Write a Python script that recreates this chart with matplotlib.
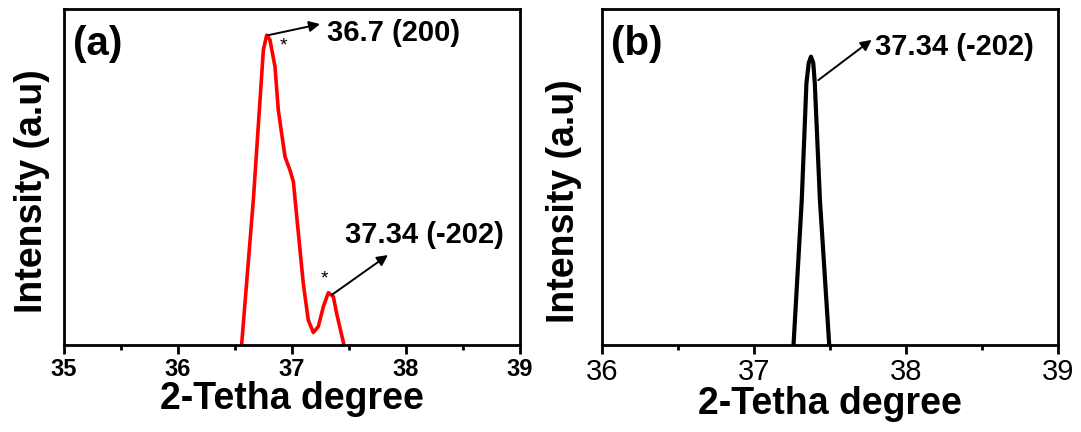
import matplotlib
matplotlib.use('Agg')
import matplotlib.pyplot as plt
from matplotlib.ticker import MultipleLocator

plt.rcParams['font.family'] = ['Liberation Sans', 'DejaVu Sans']

# panel (a) - red pattern, two peaks
theta_a = [36.558, 36.661, 36.749, 36.778, 36.807, 36.851, 36.880, 36.909, 36.939,
           36.982, 37.012, 37.056, 37.099, 37.143, 37.187, 37.231, 37.275, 37.319,
           37.363, 37.392, 37.456]
int_a = [0.0, 0.432, 0.879, 0.923, 0.909, 0.829, 0.700, 0.631, 0.561,
         0.521, 0.487, 0.333, 0.184, 0.074, 0.037, 0.055, 0.114, 0.156,
         0.144, 0.094, 0.0]

# panel (b) - black pattern, single peak
theta_b = [37.26, 37.314, 37.345, 37.36, 37.375, 37.39, 37.40, 37.434, 37.495]
int_b = [0.0, 0.43, 0.78, 0.84, 0.859, 0.84, 0.78, 0.43, 0.0]

# peak labels
peak_a1 = (36.792, 0.923, '36.7 (200)')
peak_a2 = (37.348, 0.149, '37.34 (-202)')
peak_b = (37.423, 0.789, '37.34 (-202)')

fig = plt.figure(figsize=(10.81, 4.32), dpi=100)
ax1 = fig.add_axes([0.0592, 0.2014, 0.4218, 0.777])
ax2 = fig.add_axes([0.5569, 0.2014, 0.4218, 0.777])

ax1.plot(theta_a, int_a, color='#ff0000', lw=2.6, solid_joinstyle='round')
ax2.plot(theta_b, int_b, color='black', lw=3, solid_joinstyle='round')

ax1.set_xlim(35, 39)
ax2.set_xlim(36, 39)

arrow = dict(arrowstyle='-|>', color='black', lw=1.4, mutation_scale=16,
             shrinkA=0, shrinkB=0)

# (a) annotations
ax1.annotate('', xy=(37.246, 0.956), xytext=peak_a1[:2], arrowprops=arrow)
ax1.text(37.307, 0.929, peak_a1[2], fontsize=21, fontweight='bold', va='center')
ax1.text(36.921, 0.89, '*', fontsize=14, ha='center', va='center')
ax1.annotate('', xy=(37.842, 0.268), xytext=peak_a2[:2], arrowprops=arrow)
ax1.text(37.465, 0.328, peak_a2[2], fontsize=21, fontweight='bold', va='center')
ax1.text(37.289, 0.198, '*', fontsize=14, ha='center', va='center')

# (b) annotation
ax2.annotate('', xy=(37.774, 0.909), xytext=peak_b[:2], arrowprops=arrow)
ax2.text(37.796, 0.889, peak_b[2], fontsize=21, fontweight='bold', va='center')

for ax, tag in [(ax1, '(a)'), (ax2, '(b)')]:
    ax.set_ylim(0, 1)
    ax.set_yticks([])
    ax.xaxis.set_major_locator(MultipleLocator(1))
    ax.xaxis.set_minor_locator(MultipleLocator(0.5))
    ax.tick_params(axis='x', which='major', direction='out', length=6.5, width=2)
    ax.tick_params(axis='x', which='minor', direction='out', length=3.5, width=2)
    for s in ax.spines.values():
        s.set_linewidth(2)
    ax.set_xlabel('2-Tetha degree', fontsize=27, fontweight='bold', labelpad=0)
    ax.set_ylabel('Intensity (a.u)', fontsize=27, fontweight='bold')
    ax.text(0.02, 0.897, tag, transform=ax.transAxes, fontsize=29,
            fontweight='bold', va='center', ha='left')

ax1.tick_params(axis='x', labelsize=17, pad=3)
for lbl in ax1.get_xticklabels():
    lbl.set_fontweight('bold')
ax2.tick_params(axis='x', labelsize=21, pad=3)

ax1.yaxis.set_label_coords(-0.031, 0.459)
ax2.yaxis.set_label_coords(-0.044, 0.43)

fig.savefig('out.png', dpi=100)
